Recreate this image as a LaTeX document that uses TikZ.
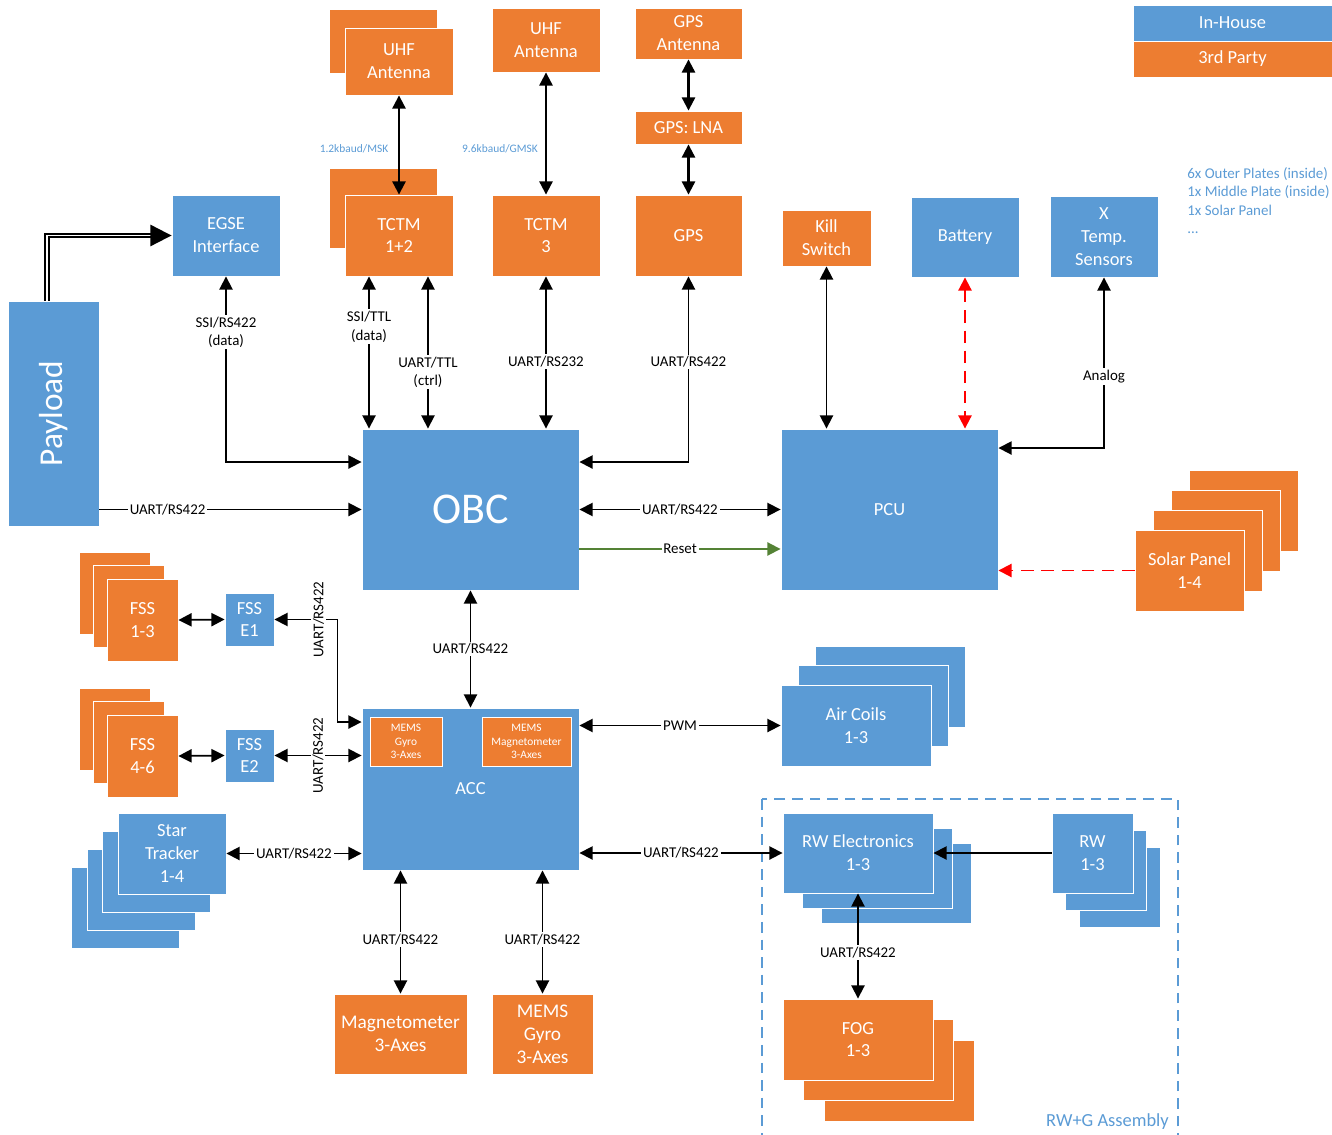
\documentclass[tikz,border=0pt]{standalone}
\usepackage{fontspec}
\setmainfont{Carlito}
\usepackage{tikz}
\usetikzlibrary{positioning,arrows.meta,backgrounds}
\definecolor{eigen}{RGB}{91,155,213}
\definecolor{extern}{RGB}{237,125,49}
\definecolor{resetgroen}{RGB}{84,130,53}
\definecolor{voeding}{RGB}{255,0,0}

\begin{document}
\begin{tikzpicture}[x=0.02cm, y=-0.02cm,
    blok/.style={draw=white, line width=0.5pt, text=white, align=center,
                 inner sep=1pt, font=\fontsize{10.5}{13}\selectfont},
    eigenblok/.style={blok, fill=eigen},
    extblok/.style={blok, fill=extern},
    maat/.style 2 args={minimum width=#1*0.02cm, minimum height=#2*0.02cm},
    lbl/.style={fill=white, inner sep=1pt, align=center,
                font=\fontsize{8.5}{10.5}\selectfont},
    bus/.style={line width=1pt,
                {Triangle[length=7.5pt,width=7.5pt]}-{Triangle[length=7.5pt,width=7.5pt]}},
    naar/.style={line width=1pt, -{Triangle[length=7.5pt,width=7.5pt]}},
    stroom/.style={voeding, line width=1.1pt, dash pattern=on 7pt off 4.5pt},
    baud/.style={text=eigen, font=\fontsize{6.5}{8}\selectfont}]
  \useasboundingbox (0,0) rectangle (1332,1135);

  % legenda
  \node[eigenblok, maat={199}{36}] (leg1) at (1232.5,23) {In-House};
  \node[extblok, maat={199}{36}] (leg2) at (1232.5,59) {3rd Party};
  \node[anchor=north west, text=eigen, align=left, inner sep=0pt,
        font=\fontsize{8.5}{10.5}\selectfont] (platen) at (1187,167)
        {6x Outer Plates (inside)\\1x Middle Plate (inside)\\1x Solar Panel\\...};

  % communicatie
  \node[extblok, maat={108}{67}] (uhfa) at (399,61.5) {UHF\\Antenna};
  \node[extblok, maat={108}{81}] (tctma) at (399,235.5) {TCTM\\1+2};
  \node[extblok, maat={108}{64}] (uhfb) at (546,40) {UHF\\Antenna};
  \node[extblok, maat={108}{81}] (tctmb) at (546,235.5) {TCTM\\3};
  \node[extblok, maat={107}{51}] (gpsant) at (688.5,33.5) {GPS\\Antenna};
  \node[extblok, maat={107}{33}] (lna) at (688.5,127.5) {GPS: LNA};
  \node[extblok, maat={107}{81}] (gps) at (688.5,235.5) {GPS};
  \node[baud] (bauda) at (354,149) {1.2kbaud/MSK};
  \node[baud] (baudb) at (500,149) {9.6kbaud/GMSK};

  % voeding
  \node[extblok, maat={89}{56}] (kill) at (826.5,238) {Kill\\Switch};
  \node[eigenblok, maat={108}{80}] (bat) at (965,237) {Battery};
  \node[eigenblok, maat={108}{81}] (temp) at (1104,236.5) {X\\Temp.\\Sensors};
  \node[extblok, maat={109}{81}] (solar) at (1189.5,570.5) {Solar Panel\\1-4};

  % kern
  \node[eigenblok, maat={108}{81}] (egse) at (226,235.5) {EGSE\\Interface};
  \node[eigenblok, maat={91}{225}] (payload) at (53.5,413.5)
        {\rotatebox{90}{\fontsize{19}{22}\selectfont Payload}};
  \node[eigenblok, maat={217}{161}, font=\fontsize{25}{30}\selectfont] (obc) at (470.5,509.5) {OBC};
  \node[eigenblok, maat={217}{161}] (pcu) at (889.5,509.5) {PCU};
  \node[eigenblok, maat={217}{162}] (acc) at (470.5,789) {ACC};
  \node[extblok, maat={72}{49}, font=\fontsize{6.5}{7.6}\selectfont] (gyroin) at (406,741.5) {MEMS\\Gyro\\3-Axes};
  \node[extblok, maat={89}{49}, font=\fontsize{6.5}{7.6}\selectfont] (magin) at (526.5,741.5) {MEMS\\Magnetometer\\3-Axes};

  % standregeling
  \node[extblok, maat={71}{82}] (fssa) at (142.5,620) {FSS\\1-3};
  \node[eigenblok, maat={49}{53}] (fsse1) at (249.5,619.5) {FSS\\E1};
  \node[extblok, maat={71}{82}] (fssb) at (142.5,756) {FSS\\4-6};
  \node[eigenblok, maat={49}{53}] (fsse2) at (249.5,755.5) {FSS\\E2};
  \node[eigenblok, maat={108}{81}] (star) at (172,853.5) {Star\\Tracker\\1-4};
  \node[eigenblok, maat={150}{81}] (air) at (856,725.5) {Air Coils\\1-3};
  \node[extblok, maat={133}{80}, font=\fontsize{11}{13.5}\selectfont] (mag) at (400.5,1034) {Magnetometer\\3-Axes};
  \node[extblok, maat={101}{80}, font=\fontsize{11}{13}\selectfont] (gyro) at (542.5,1034) {MEMS\\Gyro\\3-Axes};

  % RW+G
  \draw[eigen, line width=0.8pt, dash pattern=on 6pt off 4pt] (762,799) rectangle (1178,1150);
  \node[anchor=east, text=eigen, font=\fontsize{10.5}{12}\selectfont] (rwglbl) at (1175,1122) {RW+G Assembly};
  \node[eigenblok, maat={150}{80}] (rwe) at (858,853) {RW Electronics\\1-3};
  \node[eigenblok, maat={81}{80}] (rw) at (1092.5,853) {RW\\1-3};
  \node[extblok, maat={150}{81}] (fog) at (858,1039.5) {FOG\\1-3};

  % stapels
  \begin{scope}[on background layer]
    \node[extblok, maat={108}{64}] at ([shift={(-16,-20)}]uhfa.center) {};
    \node[extblok, maat={108}{80}] at ([shift={(-16,-27)}]tctma.center) {};
    \foreach \k in {3,2,1}
      \node[extblok, maat={109}{81}] at ([shift={(18*\k,-19.7*\k)}]solar.center) {};
    \foreach \k in {2,1} {
      \node[extblok, maat={71}{82}] at ([shift={(-14*\k,-13.5*\k)}]fssa.center) {};
      \node[extblok, maat={71}{82}] at ([shift={(-14*\k,-13.5*\k)}]fssb.center) {};
      \node[eigenblok, maat={150}{81}] at ([shift={(17*\k,-19.5*\k)}]air.center) {};
      \node[eigenblok, maat={150}{80}] at ([shift={(19*\k,15*\k)}]rwe.center) {};
      \node[eigenblok, maat={81}{80}] at ([shift={(13.5*\k,17*\k)}]rw.center) {};
      \node[extblok, maat={150}{81}] at ([shift={(20.5*\k,20.5*\k)}]fog.center) {};
    }
    \foreach \k in {3,2,1}
      \node[eigenblok, maat={108}{81}] at ([shift={(-15.5*\k,18.3*\k)}]star.center) {};
  \end{scope}

  % verbindingen boven
  \draw[bus, line width=1.2pt] (uhfa.south) -- (tctma.north);
  \draw[bus, line width=1.2pt] (uhfb.south) -- (tctmb.north);
  \draw[bus, line width=1.2pt] (gpsant.south) -- (lna.north);
  \draw[bus, line width=1.2pt] (lna.south) -- (gps.north);
  \draw[bus] (egse.south) |- ([yshift=0.95cm]obc.west)
        node[lbl, pos=0.15] {SSI/RS422\\(data)};
  \draw[bus] ([xshift=-0.6cm]tctma.south) -- ([xshift=-0.6cm]tctma.south |- obc.north)
        node[lbl, pos=0.33] {SSI/TTL\\(data)};
  \draw[bus] ([xshift=0.58cm]tctma.south) -- ([xshift=0.58cm]tctma.south |- obc.north)
        node[lbl, pos=0.63] {UART/TTL\\(ctrl)};
  \draw[bus] (tctmb.south) -- (tctmb.south |- obc.north)
        node[lbl, pos=0.56] {UART/RS232};
  \draw[bus] (gps.south) |- ([yshift=0.95cm]obc.east)
        node[lbl, pos=0.23] {UART/RS422};
  \draw[line width=1.2pt, double=white, double distance=0.7pt,
        -{Triangle[length=12pt,width=12pt]}] ([xshift=-0.13cm]payload.north) |- (egse.west);
  \draw[naar] (obc.west -| payload.east) -- (obc.west)
        node[lbl, pos=0.26] {UART/RS422};

  % OBC - PCU
  \draw[bus] (obc.east) -- (pcu.west) node[lbl, pos=0.5] {UART/RS422};
  \draw[naar, resetgroen] ([yshift=-0.79cm]obc.east) -- ([yshift=-0.79cm]pcu.west)
        node[lbl, pos=0.5, text=black] {Reset};
  \draw[bus] (kill.south) -- (kill.south |- pcu.north);
  \draw[stroom, {Triangle[length=7.5pt,width=7.5pt]}-{Triangle[length=7.5pt,width=7.5pt]}]
        (bat.south) -- (bat.south |- pcu.north);
  \draw[bus] (temp.south) |- ([yshift=1.23cm]pcu.east)
        node[lbl, pos=0.29] {Analog};
  \draw[stroom, -{Triangle[length=7.5pt,width=7.5pt]}] (solar.west) -- (solar.west -| pcu.east);

  % ACC
  \draw[bus] (obc.south) -- (acc.north) node[lbl, pos=0.5] {UART/RS422};
  \draw[bus] (fssa.east) -- (fsse1.west);
  \draw[bus] (fssb.east) -- (fsse2.west);
  \draw[bus] (fsse1.east) -- ++(63,0) node[lbl, pos=0.7, rotate=90] {UART/RS422}
        |- ([yshift=1.34cm]acc.west);
  \draw[bus] (fsse2.east) -- (fsse2.east -| acc.west)
        node[lbl, pos=0.5, rotate=90] {UART/RS422};
  \draw[bus] (star.east) -- (star.east -| acc.west) node[lbl, pos=0.5] {UART/RS422};
  \draw[bus] (air.west -| acc.east) -- (air.west) node[lbl, pos=0.5] {PWM};
  \draw[bus] (rwe.west -| acc.east) -- (rwe.west) node[lbl, pos=0.5] {UART/RS422};
  \draw[naar] (rw.west) -- (rwe.east);
  \draw[bus] (rwe.south) -- (fog.north) node[lbl, pos=0.56] {UART/RS422};
  \draw[bus] (mag.north |- acc.south) -- (mag.north) node[lbl, pos=0.56] {UART/RS422};
  \draw[bus] (gyro.north |- acc.south) -- (gyro.north) node[lbl, pos=0.56] {UART/RS422};
\end{tikzpicture}
\end{document}
